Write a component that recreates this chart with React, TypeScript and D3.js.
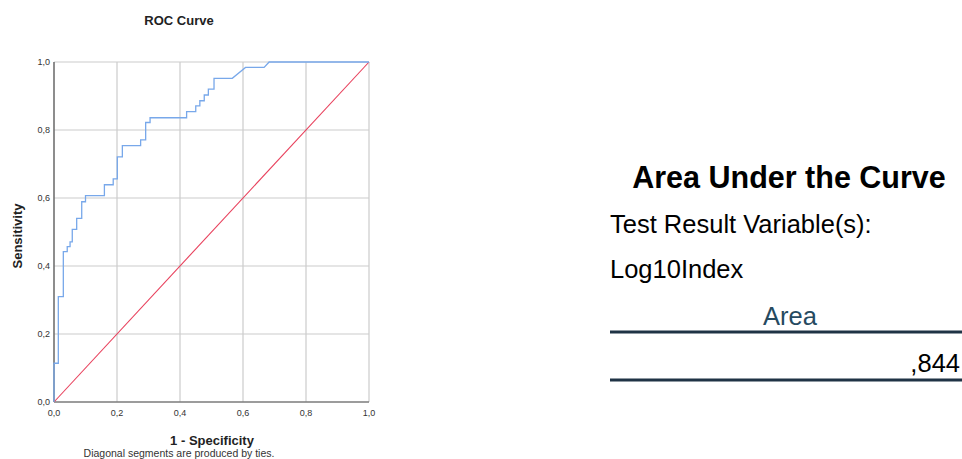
import React from 'react';
import * as d3 from 'd3';

// ROC points (1 - specificity, sensitivity)
const fpr = [0, 0, 0.0137, 0.0137, 0.0296, 0.0296, 0.042, 0.042, 0.051, 0.051, 0.058, 0.058, 0.072, 0.072, 0.088, 0.088, 0.1, 0.1,
  0.16, 0.16, 0.188, 0.188, 0.201, 0.201, 0.217, 0.217, 0.275, 0.275, 0.291, 0.291, 0.305, 0.305, 0.421, 0.421, 0.45, 0.45,
  0.463, 0.463, 0.477, 0.477, 0.49, 0.49, 0.508, 0.508, 0.566, 0.608, 0.667, 0.683, 1];
const tpr = [0, 0.114, 0.114, 0.31, 0.31, 0.442, 0.442, 0.457, 0.457, 0.471, 0.471, 0.508, 0.508, 0.54, 0.54, 0.589, 0.589, 0.607,
  0.607, 0.639, 0.639, 0.656, 0.656, 0.721, 0.721, 0.754, 0.754, 0.771, 0.771, 0.822, 0.822, 0.836, 0.836, 0.854, 0.854, 0.871,
  0.871, 0.886, 0.886, 0.903, 0.903, 0.92, 0.92, 0.952, 0.952, 0.984, 0.984, 1, 1];
const refLine = [0, 1];
const ticks = [0, 0.2, 0.4, 0.6, 0.8, 1];
const areaValue = ',844';
const testVariable = 'Log10Index';

const font = 'Arial, "Liberation Sans", sans-serif';

const App = () => {
  const x = d3.scaleLinear().domain([0, 1]).range([54, 369]);
  const y = d3.scaleLinear().domain([0, 1]).range([402, 62]);
  const fmt = (v: number) => d3.format('.1f')(v).replace('.', ',');

  const pts: [number, number][] = fpr.map((f, i) => [f, tpr[i]]);
  const line = d3.line<[number, number]>().x(d => x(d[0])).y(d => y(d[1]));

  return (
    <svg width={962} height={459} style={{ position: 'absolute', left: 0, top: 0, background: '#fff' }} fontFamily={font}>
      <text x={179} y={25} textAnchor="middle" fontSize={13} fontWeight="bold" fill="#222">ROC Curve</text>

      {/* grid */}
      {ticks.map(t => (
        <g key={'g' + t}>
          <line x1={x(t)} x2={x(t)} y1={y(0)} y2={y(1)} stroke="#cccccc" strokeWidth={1.2} />
          <line x1={x(0)} x2={x(1)} y1={y(t)} y2={y(t)} stroke="#cccccc" strokeWidth={1.2} />
        </g>
      ))}
      <line x1={x(0)} x2={x(0)} y1={y(0)} y2={y(1)} stroke="#555" strokeWidth={1.2} />
      <line x1={x(0)} x2={x(1)} y1={y(0)} y2={y(0)} stroke="#555" strokeWidth={1.2} />

      {/* tick labels */}
      {ticks.map(t => (
        <text key={'yl' + t} x={50} y={y(t) + 3} textAnchor="end" fontSize={9} fill="#333">{fmt(t)}</text>
      ))}
      {ticks.map(t => (
        <text key={'xl' + t} x={x(t)} y={416} textAnchor="middle" fontSize={9} fill="#333">{fmt(t)}</text>
      ))}

      {/* reference diagonal */}
      <path d={line(refLine.map(v => [v, v]) as [number, number][]) || ''} fill="none" stroke="#e8405c" strokeWidth={1.1} />
      {/* ROC curve */}
      <path d={line(pts) || ''} fill="none" stroke="#78a8ea" strokeWidth={1.3} />

      <text transform={`translate(22,236) rotate(-90)`} textAnchor="middle" fontSize={13} fontWeight="bold" fill="#222">Sensitivity</text>
      <text x={212} y={445} textAnchor="middle" fontSize={13} fontWeight="bold" fill="#222">1 - Specificity</text>
      <text x={179} y={457} textAnchor="middle" fontSize={10.5} fill="#333">Diagonal segments are produced by ties.</text>

      {/* AUC table */}
      <text x={789} y={188} textAnchor="middle" fontSize={30.5} fontWeight="bold" fill="#000">Area Under the Curve</text>
      <text x={610} y={233} fontSize={25.5} fill="#000">Test Result Variable(s):</text>
      <text x={610} y={278} fontSize={25.5} fill="#000">{testVariable}</text>
      <text x={790} y={325} textAnchor="middle" fontSize={25.5} fill="#264a60">Area</text>
      <line x1={610} x2={962} y1={332} y2={332} stroke="#1f3345" strokeWidth={3} />
      <text x={960} y={372} textAnchor="end" fontSize={25.5} fill="#000">{areaValue}</text>
      <line x1={610} x2={962} y1={380} y2={380} stroke="#1f3345" strokeWidth={3} />
    </svg>
  );
};

export default App;
